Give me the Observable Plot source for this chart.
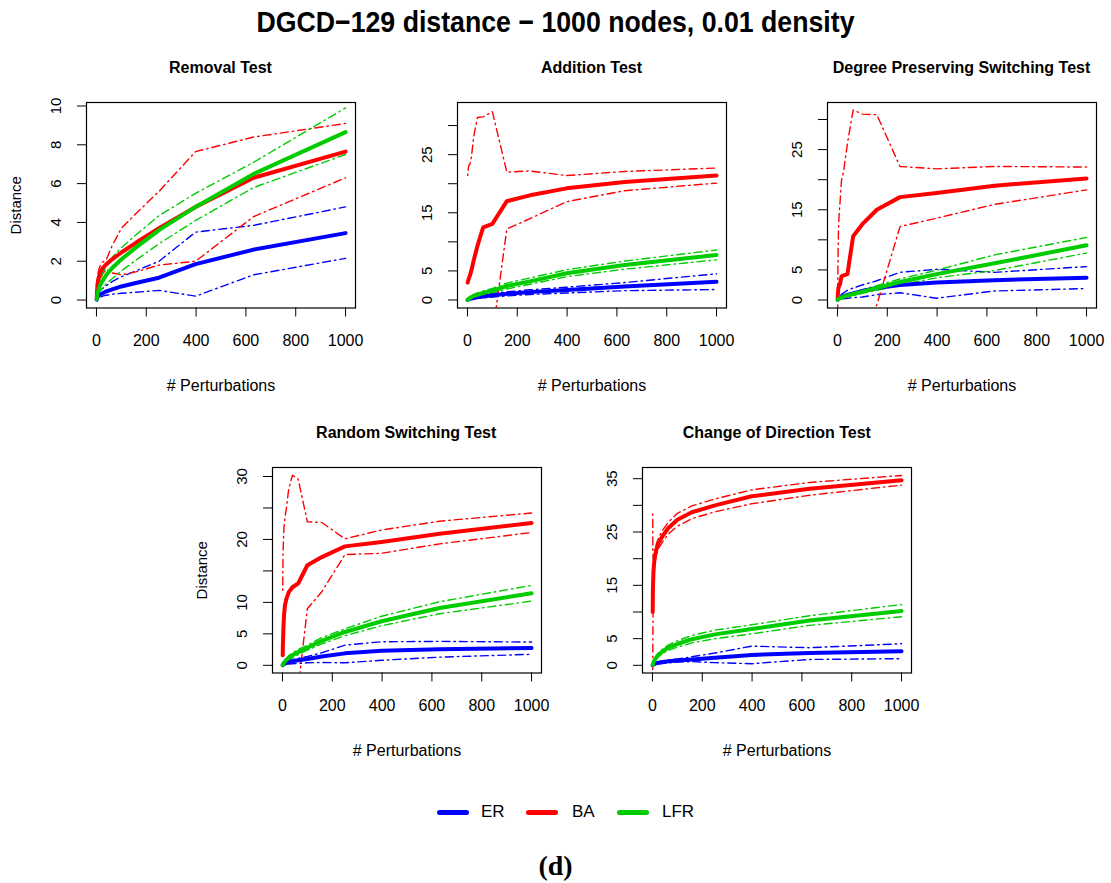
<!DOCTYPE html>
<html><head><meta charset="utf-8">
<script src="https://cdn.jsdelivr.net/npm/d3@7"></script>
<script src="https://cdn.jsdelivr.net/npm/@observablehq/plot@0.6"></script>
<style>
body{margin:0;background:#fff;}
#root{position:relative;width:1111px;height:883px;overflow:hidden;background:#fff;font-family:"Liberation Sans",Arial,sans-serif;color:#000;}
.abs{position:absolute;}
.maintitle{left:0;width:1111px;top:4px;text-align:center;font-weight:bold;font-size:30px;line-height:36px;transform:scaleX(0.89);}
.ptitle{font-weight:bold;font-size:16px;line-height:20px;text-align:center;width:400px;}
.legbar{height:5px;width:32px;border-radius:3px;}
.legtxt{font-size:17px;line-height:20px;}
.cap{left:0;width:1111px;text-align:center;top:850px;font-family:"Liberation Serif","DejaVu Serif",serif;font-weight:bold;font-size:28px;line-height:32px;}
</style></head><body>
<div id="root"></div>
<script>
// ---------- data ----------
const perturbations = [1, 1.6, 2.5, 4, 6.3, 10, 16, 25, 40, 63, 100, 158, 251, 398, 631, 1000];
const xTicks = [0, 200, 400, 600, 800, 1000];
const seriesNames = ["ER", "BA", "LFR"];
const seriesColors = ["#0000ff", "#ff0000", "#00cc00"];
const panelNames = ["Removal Test", "Addition Test", "Degree Preserving Switching Test", "Random Switching Test", "Change of Direction Test"];
const yTickSets = [[0,2,4,6,8,10],[0,5,10,15,20,25,30],[0,5,10,15,20,25,30],[0,5,10,15,20,25,30],[0,5,10,15,20,25,30,35]];
const yTickLabelSets = [[0,2,4,6,8,10],[0,5,15,25],[0,5,15,25],[0,5,10,20,30],[0,5,15,25,35]];

// Removal Test
const removalERMean = [0.02,0.05,0.1,0.15,0.2,0.25,0.3,0.35,0.45,0.55,0.7,0.88,1.15,1.85,2.6,3.45];
const removalERHi   = [0.05,0.1,0.15,0.25,0.3,0.4,0.5,0.6,0.75,0.95,1.2,1.5,2.0,3.5,3.85,4.8];
const removalERLo   = [0,0,0.02,0.05,0.08,0.1,0.15,0.2,0.25,0.3,0.35,0.4,0.5,0.2,1.3,2.15];
const removalBAMean = [0.1,0.3,0.5,0.8,1.0,1.2,1.45,1.65,1.85,2.1,2.45,2.95,3.7,4.8,6.3,7.65];
const removalBAHi   = [0.2,0.5,0.8,1.1,1.4,1.6,1.8,1.95,2.1,2.8,3.7,4.45,5.6,7.65,8.4,9.1];
const removalBALo   = [0,0.1,0.2,0.5,0.6,0.8,1.1,1.35,1.6,1.4,1.3,1.45,1.8,2.0,4.3,6.3];
const removalLFRMean= [0.05,0.1,0.2,0.3,0.45,0.6,0.8,1.0,1.3,1.65,2.1,2.7,3.6,4.8,6.5,8.65];
const removalLFRHi  = [0.1,0.2,0.35,0.5,0.7,0.9,1.1,1.4,1.75,2.2,2.7,3.35,4.35,5.5,7.1,9.9];
const removalLFRLo  = [0,0,0.05,0.1,0.2,0.3,0.5,0.6,0.85,1.1,1.5,2.05,2.9,4.1,5.8,7.5];

// Addition Test
const additionERMean = [0,0.02,0.05,0.08,0.12,0.18,0.25,0.35,0.45,0.6,0.8,1.05,1.35,1.7,2.3,3.15];
const additionERHi   = [0.02,0.05,0.1,0.15,0.2,0.3,0.4,0.5,0.65,0.85,1.1,1.4,1.75,2.2,3.0,4.5];
const additionERLo   = [0,0,0,0.02,0.05,0.08,0.12,0.2,0.3,0.4,0.5,0.7,0.95,1.2,1.6,1.8];
const additionBAMean = [3.0,3.1,3.3,3.5,3.8,4.2,5.1,6.8,9.3,12.5,13.1,17.0,18.0,19.2,20.3,21.4];
const additionBAHi   = [21.4,21.8,22.3,22.8,23.2,23.4,24.6,28.1,31.4,31.5,32.4,22.0,22.2,21.4,22.1,22.7];
const additionBALo   = [-15.4,-15.6,-15.7,-15.8,-15.6,-15.0,-14.4,-14.5,-12.8,-6.5,-6.2,12.2,14.0,16.9,18.8,20.1];
const additionLFRMean= [0.02,0.05,0.1,0.15,0.25,0.35,0.5,0.7,0.9,1.2,1.6,2.4,3.2,4.6,6.0,7.75];
const additionLFRHi  = [0.05,0.1,0.15,0.25,0.35,0.5,0.7,0.95,1.2,1.55,2.0,2.9,3.8,5.2,6.7,8.6];
const additionLFRLo  = [0,0,0.05,0.08,0.15,0.2,0.3,0.45,0.6,0.85,1.2,1.9,2.7,4.0,5.3,6.9];

// Degree Preserving Switching Test
const degreeERMean = [0.05,0.1,0.15,0.2,0.3,0.4,0.5,0.65,0.85,1.1,1.5,2.0,2.5,2.9,3.3,3.7];
const degreeERHi   = [0.1,0.2,0.3,0.4,0.55,0.7,0.9,1.2,1.6,2.0,2.5,3.2,4.6,5.1,4.6,5.55];
const degreeERLo   = [0,0,0,0,0.05,0.1,0.15,0.2,0.3,0.4,0.5,0.9,1.2,0.3,1.5,1.9];
const degreeBAMean = [0.3,1.0,1.5,2.0,2.3,2.6,3.9,4.1,4.3,10.6,12.6,15.0,17.1,17.8,19.0,20.2];
const degreeBAHi   = [0.5,4,8,11.5,14,16,19.8,21.5,26,31.6,30.9,30.8,22.2,21.8,22.2,22.1];
const degreeBALo   = [0.1,-2,-5,-7.5,-9.4,-10.8,-12,-13.8,-17.4,-10.4,-5.7,-0.8,12.2,13.6,15.9,18.3];
const degreeLFRMean= [0.02,0.05,0.1,0.15,0.2,0.3,0.4,0.55,0.75,1.0,1.4,2.0,3.0,4.3,6.1,9.1];
const degreeLFRHi  = [0.05,0.1,0.15,0.2,0.3,0.4,0.55,0.7,0.95,1.25,1.7,2.4,3.5,4.95,7.5,10.4];
const degreeLFRLo  = [0,0,0.05,0.1,0.12,0.2,0.25,0.4,0.55,0.75,1.1,1.6,2.5,3.7,4.9,7.8];

// Random Switching Test
const randomERMean = [0.02,0.05,0.1,0.15,0.2,0.3,0.4,0.5,0.65,0.8,1.0,1.4,1.9,2.3,2.55,2.75];
const randomERHi   = [0.05,0.1,0.15,0.2,0.3,0.4,0.5,0.7,0.9,1.1,1.4,2.0,3.2,3.75,3.8,3.7];
const randomERLo   = [0,0,0,0,0.05,0.1,0.15,0.2,0.25,0.3,0.4,0.45,0.4,0.8,1.3,1.75];
const randomBAMean = [1.6,3.0,4.2,6.0,8.0,9.5,10.6,11.6,12.4,13.0,15.9,17.2,18.9,19.6,20.9,22.6];
const randomBAHi   = [11.9,15,18,20,22,23.5,25,28,30.2,29.6,22.8,22.7,20.1,21.5,22.9,24.2];
const randomBALo   = [-8.7,-9,-9.6,-8,-6,-4.5,-3.8,-4.8,-5.4,-3.6,9.0,11.7,17.6,17.8,19.3,21.1];
const randomLFRMean= [0.05,0.1,0.2,0.3,0.45,0.6,0.9,1.2,1.6,2.1,2.8,3.9,5.3,7.0,9.1,11.45];
const randomLFRHi  = [0.1,0.2,0.3,0.45,0.6,0.8,1.1,1.5,2.0,2.5,3.2,4.4,5.8,7.8,10.1,12.7];
const randomLFRLo  = [0,0.05,0.1,0.15,0.25,0.4,0.6,0.9,1.2,1.7,2.4,3.4,4.7,6.3,8.2,10.2];

// Change of Direction Test
const directionERMean = [0.02,0.05,0.1,0.15,0.2,0.3,0.4,0.5,0.6,0.75,0.9,1.1,1.4,1.95,2.3,2.65];
const directionERHi   = [0.05,0.1,0.15,0.25,0.35,0.45,0.55,0.7,0.85,1.0,1.2,1.6,2.3,3.6,3.3,4.05];
const directionERLo   = [0,0,0,0,0.05,0.15,0.25,0.3,0.35,0.45,0.6,0.7,0.5,0.3,1.1,1.25];
const directionBAMean = [10,13.5,15.5,17.5,19,20.5,21.8,23.0,24.2,25.7,27.3,28.7,30.0,31.7,33.1,34.7];
const directionBAHi   = [28.4,22,20,20,20.5,21.5,22.8,24,25.3,26.8,28.5,29.9,31.2,32.9,34.3,35.6];
const directionBALo   = [-8.4,5,11,15,17.5,19.5,20.8,22,23.1,24.6,26.1,27.5,28.8,30.3,31.9,33.8];
const directionLFRMean= [0.05,0.15,0.3,0.5,0.8,1.1,1.5,2.0,2.6,3.3,4.0,4.9,5.8,6.8,8.4,10.2];
const directionLFRHi  = [0.1,0.2,0.4,0.65,1.0,1.4,1.85,2.4,3.0,3.8,4.6,5.6,6.6,7.6,9.3,11.4];
const directionLFRLo  = [0,0.05,0.2,0.35,0.6,0.8,1.15,1.6,2.2,2.8,3.4,4.2,5.0,5.9,7.5,9.1];

// ---------- layout ----------
const panelSeries = [
  [[removalERMean, removalERHi, removalERLo], [removalBAMean, removalBAHi, removalBALo], [removalLFRMean, removalLFRHi, removalLFRLo]],
  [[additionERMean, additionERHi, additionERLo], [additionBAMean, additionBAHi, additionBALo], [additionLFRMean, additionLFRHi, additionLFRLo]],
  [[degreeERMean, degreeERHi, degreeERLo], [degreeBAMean, degreeBAHi, degreeBALo], [degreeLFRMean, degreeLFRHi, degreeLFRLo]],
  [[randomERMean, randomERHi, randomERLo], [randomBAMean, randomBAHi, randomBALo], [randomLFRMean, randomLFRHi, randomLFRLo]],
  [[directionERMean, directionERHi, directionERLo], [directionBAMean, directionBAHi, directionBALo], [directionLFRMean, directionLFRHi, directionLFRLo]]
];
const yDomains = [[-0.41,10.18],[-1.38,33.97],[-1.33,32.83],[-1.22,31.43],[-1.44,37.1]];
const frameOrigins = [[86,102],[457,102],[827,102],[271.7,467],[642.3,467]];
const hasYLabel = [true,false,false,true,false];
const ML = 86, MT = 12, MR = 10, MB = 96, FW = 269, FH = 205.5;

const root = document.getElementById("root");
function addDiv(cls, text, css) {
  const d = document.createElement("div");
  d.className = "abs " + cls;
  if (text != null) d.textContent = text;
  Object.assign(d.style, css || {});
  root.appendChild(d);
  return d;
}

addDiv("maintitle", "DGCD\u2212129 distance \u2212 1000 nodes, 0.01 density");

panelSeries.forEach((ser, p) => {
  const rows = [];
  ser.forEach((triple, s) => {
    ["mean","hi","lo"].forEach((kind, k) => {
      triple[k].forEach((v, i) => rows.push({x: perturbations[i], v, series: seriesNames[s], kind}));
    });
  });
  const labelSet = new Set(yTickLabelSets[p]);
  const marks = [];
  seriesNames.forEach((name, s) => {
    ["hi","lo"].forEach(kind => {
      marks.push(Plot.line(rows.filter(r => r.series === name && r.kind === kind), {
        x: "x", y: "v", stroke: seriesColors[s], strokeWidth: 1.4,
        strokeDasharray: "1.5,4,8,4", clip: true
      }));
    });
  });
  seriesNames.forEach((name, s) => {
    marks.push(Plot.line(rows.filter(r => r.series === name && r.kind === "mean"), {
      x: "x", y: "v", stroke: seriesColors[s], strokeWidth: 4,
      strokeLinecap: "round", strokeLinejoin: "round", clip: true
    }));
  });
  const chart = Plot.plot({
    width: ML + FW + MR, height: MT + FH + MB,
    marginLeft: ML, marginTop: MT, marginRight: MR, marginBottom: MB,
    x: {domain: [-40, 1040]},
    y: {domain: yDomains[p]},
    style: {fontFamily: "'Liberation Sans', Arial, sans-serif", fontSize: "15px", background: "transparent", color: "#000", overflow: "visible"},
    marks: [
      Plot.axisX({ticks: xTicks, tickFormat: d => String(d), tickSize: 9, tickPadding: 18, label: "# Perturbations", labelAnchor: "center", labelOffset: 83, labelArrow: "none", fontSize: 16}),
      Plot.axisY({ticks: yTickSets[p], tickFormat: d => labelSet.has(d) ? String(d) : "", tickSize: 9, tickPadding: 17, tickRotate: -90,
        label: hasYLabel[p] ? "Distance" : null, labelAnchor: "center", labelOffset: 76, labelArrow: "none"}),
      ...marks,
      Plot.frame({stroke: "#000", strokeWidth: 1.2})
    ]
  });
  const [fx, fy] = frameOrigins[p];
  chart.style.position = "absolute";
  chart.style.left = (fx - ML) + "px";
  chart.style.top = (fy - MT) + "px";
  root.appendChild(chart);
  addDiv("ptitle", panelNames[p], {left: (fx + FW / 2 - 200) + "px", top: (fy - 44) + "px"});
});

// legend
const legendItems = [[437, 481], [526, 572], [617, 662]];
seriesNames.forEach((name, s) => {
  addDiv("legbar", null, {left: legendItems[s][0] + "px", top: "809.5px", background: seriesColors[s]});
  addDiv("legtxt", name, {left: legendItems[s][1] + "px", top: "802px"});
});
addDiv("cap", "(d)");
</script>
</body></html>
